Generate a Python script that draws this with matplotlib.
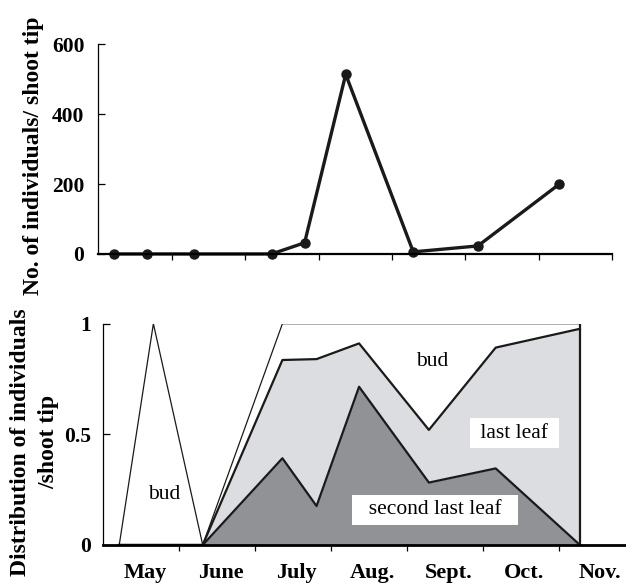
import numpy as np
import matplotlib
matplotlib.use("Agg")
import matplotlib.pyplot as plt

plt.rcParams['font.family'] = ['Liberation Serif', 'DejaVu Serif']

# sampling dates, in month units from the start of May
dates = [0.21, 0.66, 1.31, 2.36, 2.81, 3.37, 4.29, 5.17, 6.28]

# top panel: number of individuals per shoot tip
counts = [0, 0, 0, 0, 32, 514, 6, 23, 200]

# bottom panel: distribution (stacked shares)
second_last_leaf = [0, 0, 0, 0.392, 0.176, 0.715, 0.282, 0.346, 0]
last_leaf = [0, 0, 0, 0.444, 0.664, 0.196, 0.238, 0.546, 0.977]
bud = [0, 1, 0, 0.164, 0.160, 0.089, 0.480, 0.108, 0.023]

months = ['May', 'June', 'July', 'Aug.', 'Sept.', 'Oct.', 'Nov.']

dark = '#919296'
light = '#dcdde0'
ink = '#1a1a1a'

fig = plt.figure(figsize=(6.26, 5.86), dpi=100)

# ---- top panel
ax1 = fig.add_axes([0.157, 0.5666, 0.821, 0.3578])
ax1.plot(dates, counts, color=ink, lw=2.4, marker='o', ms=6.5, clip_on=False)
ax1.set_xlim(0, 7)
ax1.set_ylim(0, 600)
ax1.set_xticks(range(1, 8))
ax1.set_xticklabels([])
ax1.set_yticks([0, 200, 400, 600])
for s in ['top', 'right']:
    ax1.spines[s].set_visible(False)
ax1.spines['bottom'].set_linewidth(1.6)
ax1.spines['left'].set_linewidth(0.9)
ax1.tick_params(axis='x', direction='out', length=4.5, width=0.9)
ax1.tick_params(axis='y', direction='in', length=5, width=0.9, pad=10)
for t in ax1.get_yticklabels():
    t.set_fontweight('bold')
    t.set_fontsize(15.5)

# ---- bottom panel
ax2 = fig.add_axes([0.165, 0.070, 0.8487, 0.3776])
x = np.array(dates)
s = np.array(second_last_leaf)
cum = s + np.array(last_leaf)
total = cum + np.array(bud)

ax2.fill_between(x, 0, s, color=dark, lw=0)
ax2.fill_between(x, s, cum, color=light, lw=0)
ax2.plot(x, total, color=ink, lw=0.9)
ax2.plot(x, cum, color=ink, lw=1.6)
ax2.plot(x, s, color=ink, lw=1.6)
ax2.vlines(x[-1], 0, total[-1], color=ink, lw=1.6)

ax2.set_xlim(0, 7)
ax2.set_ylim(0, 1)
ax2.set_xticks(range(1, 8))
ax2.set_xticklabels([])
ax2.set_xticks(np.arange(7) + 0.55, minor=True)
ax2.set_xticklabels(months, minor=True, fontweight='bold', fontsize=16)
ax2.set_yticks([0, 0.5, 1])
ax2.set_yticklabels(['0', '0.5', '1'], fontweight='bold', fontsize=15.5)
for sp in ['top', 'right']:
    ax2.spines[sp].set_visible(False)
ax2.spines['bottom'].set_linewidth(2.0)
ax2.spines['left'].set_linewidth(0.9)
ax2.spines['left'].set_bounds(0, 1)
ax2.tick_params(axis='x', which='major', direction='out', length=4.5, width=0.9)
ax2.tick_params(axis='x', which='minor', length=0, pad=13)
ax2.tick_params(axis='y', direction='in', length=5, width=0.9, pad=9)

ax2.text(0.80, 0.226, 'bud', fontsize=15.5, ha='center', va='center')
ax2.text(4.34, 0.827, 'bud', fontsize=15.5, ha='center', va='center')
ax2.text(5.42, 0.506, ' last leaf ', fontsize=15.5, ha='center', va='center',
         bbox=dict(facecolor='white', edgecolor='none', pad=4))
ax2.text(4.37, 0.159, '  second last leaf  ', fontsize=15.5, ha='center', va='center',
         bbox=dict(facecolor='white', edgecolor='none', pad=4))

fig.text(0.053, 0.735, 'No. of individuals/ shoot tip', rotation=90,
         ha='center', va='center', fontsize=17, fontweight='bold')
fig.text(0.055, 0.246, 'Distribution of individuals\n/shoot tip', rotation=90,
         ha='center', va='center', fontsize=17, fontweight='bold',
         multialignment='center', linespacing=1.45)

fig.savefig('out.png', dpi=100)
